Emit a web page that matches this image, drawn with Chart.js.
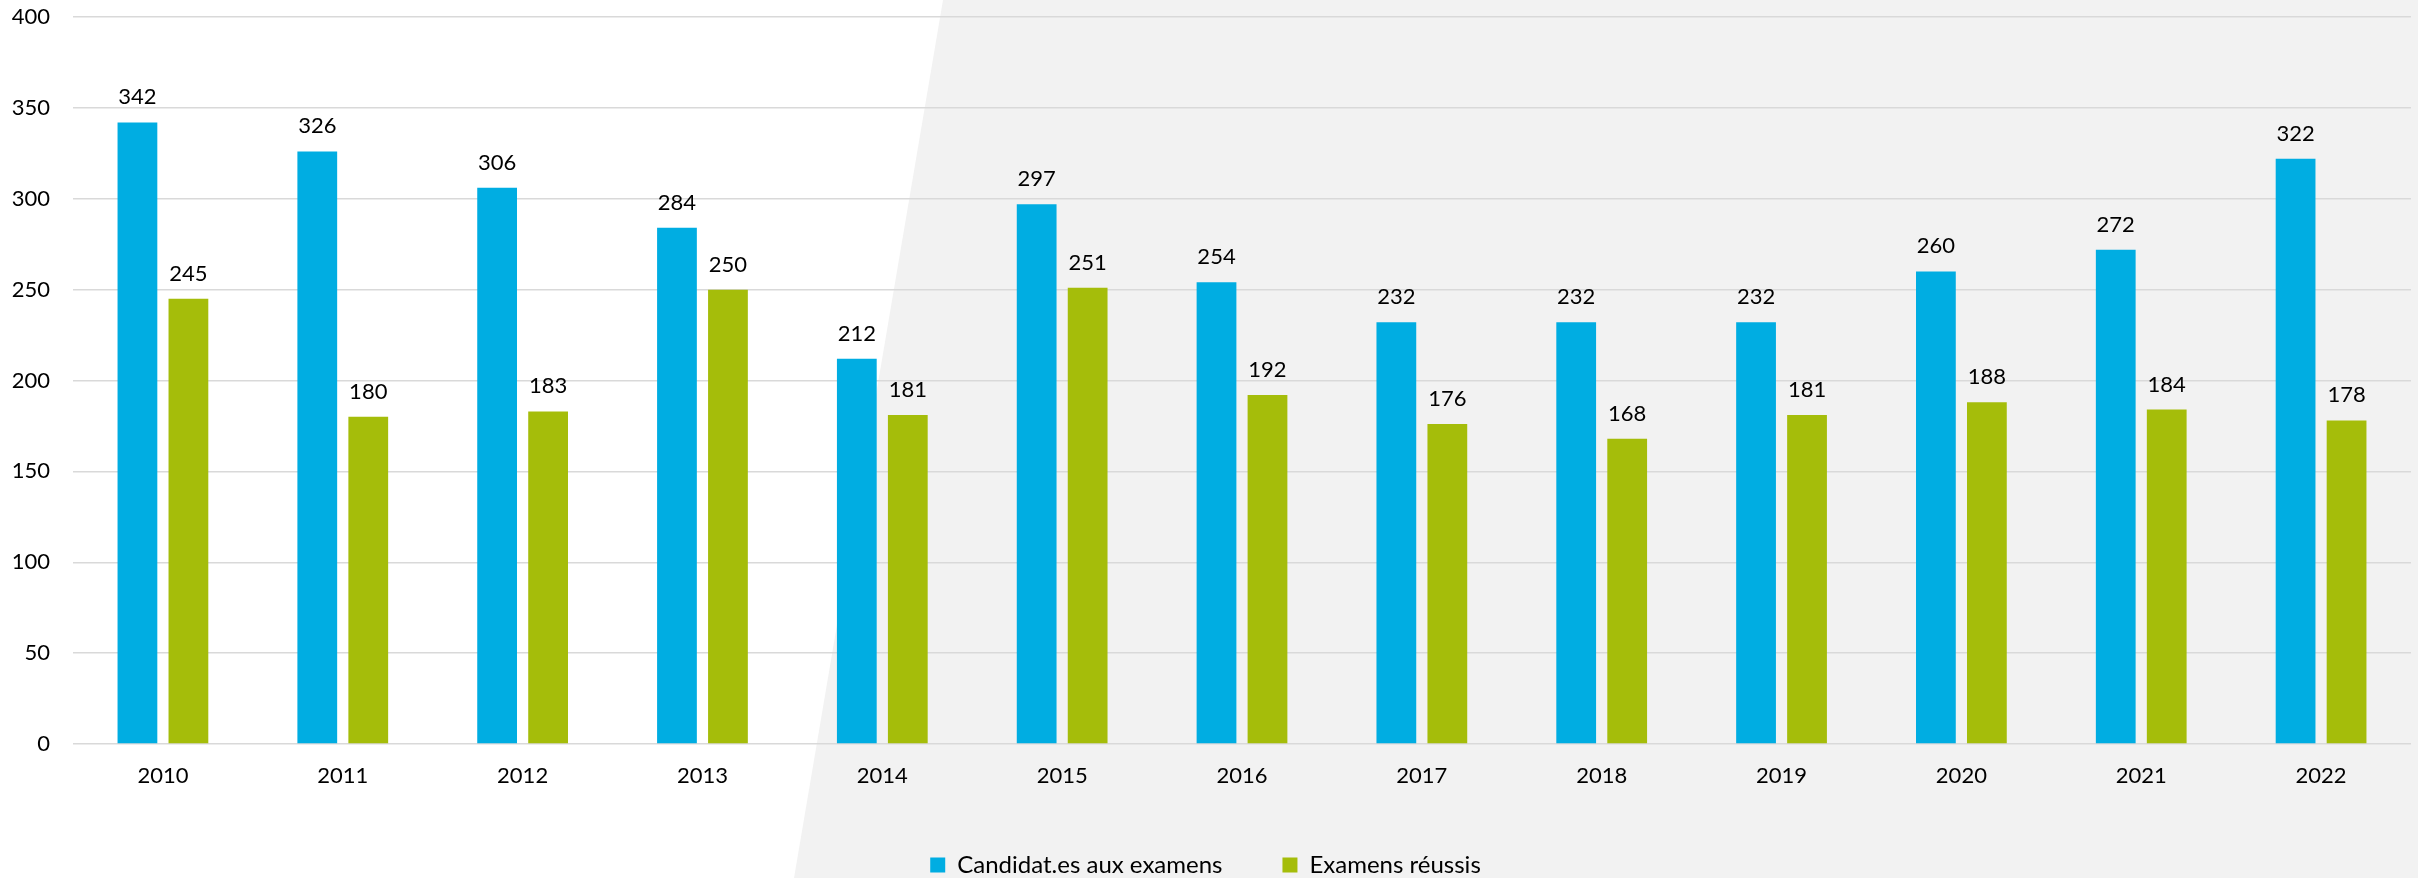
<!DOCTYPE html>
<html>
<head>
<meta charset="utf-8">
<script src="https://cdn.jsdelivr.net/npm/chart.js@4/dist/chart.umd.min.js"></script>
<style>
  html, body { margin: 0; padding: 0; background: #fff; }
  #wrap { width: 2418px; height: 878px; position: relative; }
</style>
</head>
<body>
<div id="wrap"><canvas id="chart"></canvas></div>
<script>
// values
const years = ['2010', '2011', '2012', '2013', '2014', '2015', '2016', '2017', '2018', '2019', '2020', '2021', '2022'];
const candidats = [342, 326, 306, 284, 212, 297, 254, 232, 232, 232, 260, 272, 322];
const reussis = [245, 180, 183, 250, 181, 251, 192, 176, 168, 181, 188, 184, 178];

const FONT = 'Lato, "Open Sans", sans-serif';

// grey slanted panel behind the right part of the chart
const backdrop = {
  id: 'backdrop',
  beforeDraw(chart) {
    const ctx = chart.ctx;
    const w = chart.width, h = chart.height;
    ctx.save();
    ctx.fillStyle = '#ffffff';
    ctx.fillRect(0, 0, w, h);
    ctx.fillStyle = '#f2f2f2';
    ctx.beginPath();
    ctx.moveTo(943, 0);
    ctx.lineTo(w, 0);
    ctx.lineTo(w, h);
    ctx.lineTo(794, h);
    ctx.closePath();
    ctx.fill();
    ctx.restore();
  }
};

// legend sits a little lower in the original (partly cut by the bottom edge)
const legendShift = {
  id: 'legendShift',
  afterLayout(chart) {
    if (chart.legend) {
      chart.legend.top += 9;
      chart.legend.bottom += 9;
    }
  }
};

// value labels above each bar
const barValues = {
  id: 'barValues',
  afterDatasetsDraw(chart) {
    const ctx = chart.ctx;
    ctx.save();
    ctx.font = '22px ' + FONT;
    ctx.fillStyle = '#000';
    ctx.textAlign = 'center';
    ctx.textBaseline = 'alphabetic';
    chart.data.datasets.forEach((ds, i) => {
      chart.getDatasetMeta(i).data.forEach((bar, j) => {
        ctx.fillText(ds.data[j], bar.x, bar.y - 18);
      });
    });
    ctx.restore();
  }
};

new Chart(document.getElementById('chart'), {
  type: 'bar',
  data: {
    labels: years,
    datasets: [
      {
        label: 'Candidat.es aux examens',
        data: candidats,
        backgroundColor: '#00ade2',
        categoryPercentage: 0.567,
        barPercentage: 0.78
      },
      {
        label: 'Examens réussis',
        data: reussis,
        backgroundColor: '#a5bd0a',
        categoryPercentage: 0.567,
        barPercentage: 0.78
      }
    ]
  },
  options: {
    responsive: true,
    maintainAspectRatio: false,
    animation: false,
    layout: { padding: { top: 17, right: 7, bottom: 0, left: 0 } },
    plugins: {
      tooltip: { enabled: false },
      legend: {
        position: 'bottom',
        labels: {
          font: { family: FONT, size: 24 },
          color: '#000',
          boxWidth: 15,
          boxHeight: 15,
          padding: 60
        }
      }
    },
    scales: {
      x: {
        grid: { display: false },
        border: { display: false },
        ticks: { font: { family: FONT, size: 22 }, color: '#000', padding: 11 },
        afterFit(s) { s.height = 40; }
      },
      y: {
        min: 0,
        max: 400,
        grid: { color: '#d9d9d9', lineWidth: 1.5, drawTicks: false },
        border: { display: false },
        ticks: { stepSize: 50, font: { family: FONT, size: 22 }, color: '#000', padding: 23 },
        afterFit(s) {
          s.width = 73;
          s.paddingTop = 0;
          s.paddingBottom = 0;
        }
      }
    }
  },
  plugins: [backdrop, legendShift, barValues]
});
</script>
</body>
</html>
